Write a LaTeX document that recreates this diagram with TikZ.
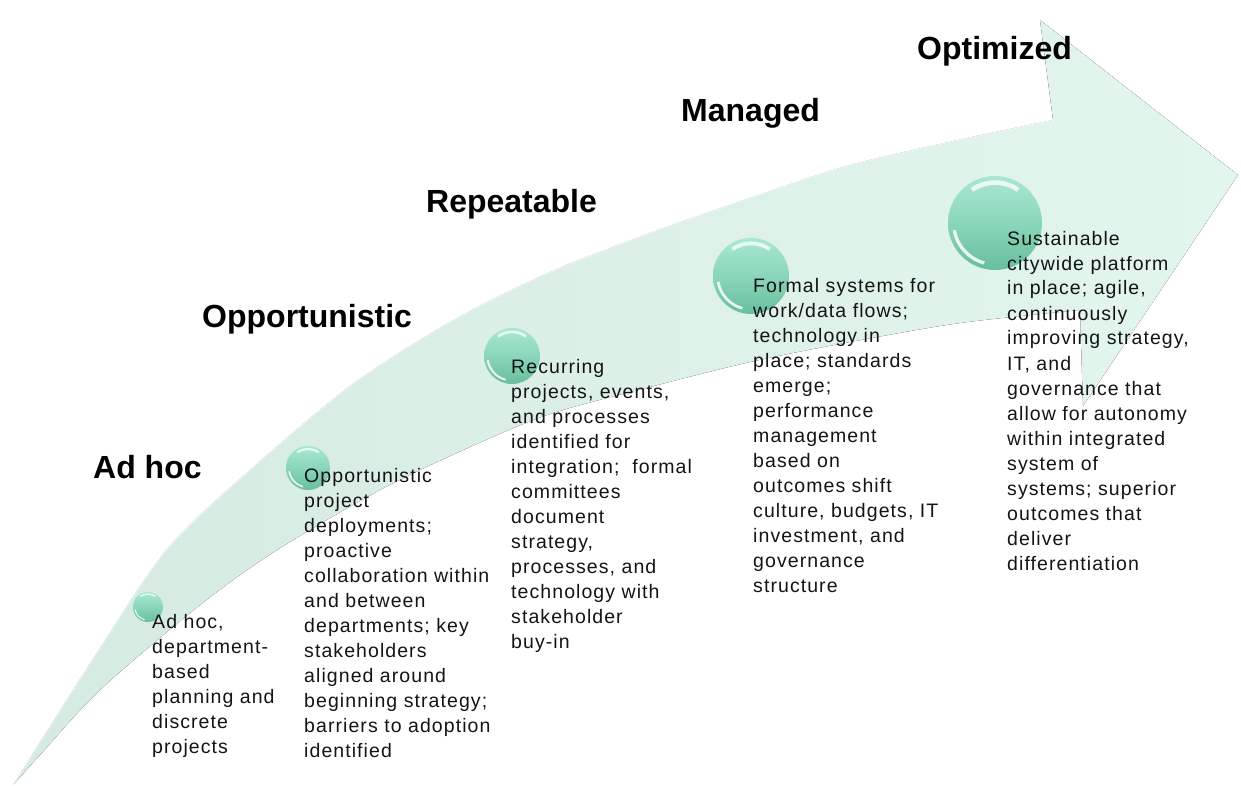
\documentclass[tikz,border=0pt]{standalone}
\usepackage{fontspec}
\setmainfont{Liberation Sans}
\newfontfamily\descfont[LetterSpace=5.5]{Liberation Sans}
\definecolor{arrL}{HTML}{D5EAE1}
\definecolor{arrR}{HTML}{E3F6EE}
\definecolor{sphB}{HTML}{A9E7D1}
\definecolor{sphC}{HTML}{8AD6BB}
\definecolor{sphD}{HTML}{68BE9F}
\newcommand{\desclines}[1]{\begin{tabular}[t]{@{}l@{}}#1\end{tabular}}
\begin{document}
\begin{tikzpicture}[x=1pt,y=-1pt,
  titlebox/.style={anchor=base west, inner sep=0pt, font=\fontsize{32}{38}\selectfont\bfseries},
  descbox/.style={anchor=base west, inner sep=0pt, text=black!92, font=\descfont\fontsize{19.5}{25}\selectfont},
  ballnode/.style={circle, inner sep=0pt, draw=none, top color=sphB, bottom color=sphD, middle color=sphC},
  arrowbody/.style={left color=arrL, right color=arrR}
]
\useasboundingbox (0,0) rectangle (1241,786);

% big curved arrow
\fill[arrowbody]
  plot[smooth, tension=0.5] coordinates {(13,785) (100,648) (168,548) (250,470) (350,386) (450,322) (550,272) (650,233) (750,198) (850,165) (967,138) (1053,120)}
  -- (1040,20) -- (1238,175) -- (1083,406)
  -- plot[smooth, tension=0.5] coordinates {(1080,310) (960,323) (850,342) (750,362) (650,387) (550,414) (470,447) (380,490) (277,550) (200,605) (100,690) (40,755) (13,785)}
  -- cycle;
\draw[white, opacity=0.6, line width=1.5pt]
  plot[smooth, tension=0.5] coordinates {(13,785) (100,648) (168,548) (250,470) (350,386) (450,322) (550,272) (650,233) (750,198) (850,165) (967,138) (1053,120)};

% spheres
\foreach \i/\x/\y/\r in {1/148/607/15, 2/308/468/22, 3/512/356/28, 4/751/276/38, 5/995/223/47}{
  \node[ballnode, minimum size={2*\r pt}] (b\i) at (\x,\y) {};
  \draw[white, opacity=0.75, line width={0.1*\r pt}]
    ([shift={(55:{0.86*\r pt})}]b\i.center) arc[start angle=55, end angle=125, radius={0.86*\r pt}];
  \draw[white, opacity=0.85, line width={0.07*\r pt}]
    ([shift={(190:{0.88*\r pt})}]b\i.center) arc[start angle=190, end angle=255, radius={0.88*\r pt}];
}

% titles
\node[titlebox] (t1) at (93,478) {Ad hoc};
\node[titlebox] (t2) at (202,327) {Opportunistic};
\node[titlebox] (t3) at (426,213) {Repeatable};
\node[titlebox] (t4) at (681,122) {Managed};
\node[titlebox] (t5) at (917,60) {Optimized};

% descriptions
\node[descbox] (d1) at (152,628) {\desclines{Ad hoc,\\department-\\based\\planning and\\discrete\\projects}};
\node[descbox] (d2) at (304,482) {\desclines{Opportunistic\\project\\deployments;\\proactive\\collaboration within\\and between\\departments; key\\stakeholders\\aligned around\\beginning strategy;\\barriers to adoption\\identified}};
\node[descbox] (d3) at (511,373) {\desclines{Recurring\\projects, events,\\and processes\\identified for\\integration;\ \ formal\\committees\\document\\strategy,\\processes, and\\technology with\\stakeholder\\buy-in}};
\node[descbox] (d4) at (753,292) {\desclines{Formal systems for\\work/data flows;\\technology in\\place; standards\\emerge;\\performance\\management\\based on\\outcomes shift\\culture, budgets, IT\\investment, and\\governance\\structure}};
\node[descbox] (d5) at (1007,245) {\desclines{Sustainable\\citywide platform\\in place; agile,\\continuously\\improving strategy,\\IT, and\\governance that\\allow for autonomy\\within integrated\\system of\\systems; superior\\outcomes that\\deliver\\differentiation}};
\end{tikzpicture}
\end{document}
